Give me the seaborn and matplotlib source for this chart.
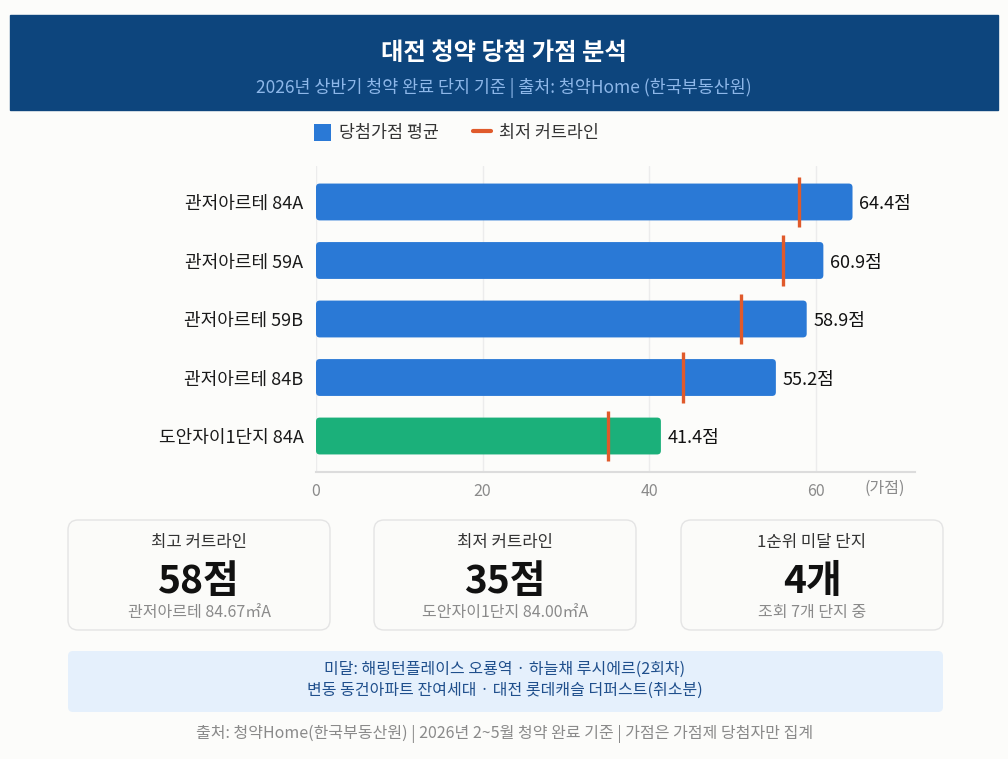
import numpy as np
import pandas as pd
import seaborn as sns
import matplotlib.pyplot as plt
from matplotlib.patches import FancyBboxPatch, Rectangle, Patch
from matplotlib.lines import Line2D


# data
complexes = ["관저아르테 84A", "관저아르테 59A", "관저아르테 59B", "관저아르테 84B", "도안자이1단지 84A"]
avg_scores = [64.4, 60.9, 58.9, 55.2, 41.4]
min_cutoffs = [58, 56, 51, 44, 35]
groups = ["관저아르테", "관저아르테", "관저아르테", "관저아르테", "도안자이"]
x_ticks = [0, 20, 40, 60]

card_titles = ["최고 커트라인", "최저 커트라인", "1순위 미달 단지"]
card_values = ["58점", "35점", "4개"]
card_subs = ["관저아르테 84.67㎡A", "도안자이1단지 84.00㎡A", "조회 7개 단지 중"]

note_lines = [
    "미달: 해링턴플레이스 오룡역 · 하늘채 루시에르(2회차)",
    "변동 동건아파트 잔여세대 · 대전 롯데캐슬 더퍼스트(취소분)",
]
title = "대전 청약 당첨 가점 분석"
subtitle = "2026년 상반기 청약 완료 단지 기준 | 출처: 청약Home (한국부동산원)"
footer = "출처: 청약Home(한국부동산원) | 2026년 2~5월 청약 완료 기준 | 가점은 가점제 당첨자만 집계"

BLUE = "#2a79d6"
GREEN = "#1bb07a"
ORANGE = "#e05a2b"
BG = "#fcfcfa"

W, H = 1008, 759


def fx(px):
    return px / W


def fy(py):
    return 1 - py / H


def main():
    sns.set_theme(style="white")
    plt.rcParams["font.family"] = ["Noto Sans CJK KR", "DejaVu Sans"]

    fig = plt.figure(figsize=(W / 100, H / 100), dpi=100)
    fig.patch.set_facecolor(BG)

    # header band
    fig.patches.append(Rectangle((fx(10), fy(110)), fx(988), 95 / H,
                                 transform=fig.transFigure, color="#0d457d", zorder=0))
    fig.text(0.5, fy(53), title, ha="center", va="center", color="white",
             fontsize=17.5, fontweight="bold")
    fig.text(0.5, fy(88), subtitle, ha="center", va="center", color="#8db7e9",
             fontsize=12.5, fontweight="medium")

    # chart
    df = pd.DataFrame({"complex": complexes, "score": avg_scores,
                       "cutoff": min_cutoffs, "group": groups})
    ax = fig.add_axes([fx(316), fy(472), fx(599), (472 - 166) / H])
    ax.set_facecolor(BG)
    sns.barplot(data=df, x="score", y="complex", hue="group",
                palette={"관저아르테": BLUE, "도안자이": GREEN}, saturation=1,
                dodge=False, legend=False, width=0.63, errorbar=None, ax=ax)

    # rounded bar corners
    for p in list(ax.patches):
        x0, y0 = p.get_x(), p.get_y()
        w, h = p.get_width(), p.get_height()
        fc = p.get_facecolor()
        p.set_visible(False)
        ax.add_patch(FancyBboxPatch((x0, y0), w, h,
                                    boxstyle="round,pad=0,rounding_size=0.45",
                                    mutation_aspect=8.33 / 58.5,
                                    facecolor=fc, edgecolor="none", zorder=2))

    pos = np.arange(len(df))
    ax.vlines(df["cutoff"], pos - 0.43, pos + 0.43, color=ORANGE, lw=2.4, zorder=3)

    for i, v in enumerate(df["score"]):
        ax.annotate(f"{v}점", (v, i), xytext=(5, -1.5), textcoords="offset points",
                    va="center", ha="left", fontsize=13, color="#111111")

    ax.set_xlim(0, 71.9)
    ax.set_ylim(len(df) - 0.385, -0.615)
    ax.set_xticks(x_ticks)
    ax.set_xlabel("")
    ax.set_ylabel("")
    ax.tick_params(axis="x", length=0, pad=8, labelsize=11.5, labelcolor="#8a8a8a")
    ax.tick_params(axis="y", length=0, pad=9, labelsize=13, labelcolor="#1a1a1a")
    ax.grid(axis="x", color="#ececec", lw=1)
    ax.set_axisbelow(True)
    for s in ["top", "right", "left"]:
        ax.spines[s].set_visible(False)
    ax.spines["bottom"].set_color("#dcdcdc")
    ax.spines["bottom"].set_linewidth(1.5)
    fig.text(fx(885), fy(488), "(가점)", ha="center", va="center",
             fontsize=11.5, color="#8a8a8a")

    # legend
    handles = [Patch(facecolor=BLUE, edgecolor="none"),
               Line2D([0], [0], color=ORANGE, lw=3)]
    fig.legend(handles, ["당첨가점 평균", "최저 커트라인"], loc="center",
               bbox_to_anchor=(fx(456), fy(133)), ncol=2, frameon=False,
               fontsize=12.5, handlelength=1.0, handleheight=1.1,
               columnspacing=2.0, handletextpad=0.45, labelcolor="#333333")

    # cards
    card_x = [68, 374, 681]
    card_w = 262
    for cx, t, v, s in zip(card_x, card_titles, card_values, card_subs):
        fig.patches.append(FancyBboxPatch(
            (fx(cx), fy(630)), fx(card_w), 110 / H,
            boxstyle=f"round,pad=0,rounding_size={10 / W}",
            mutation_aspect=W / H, transform=fig.transFigure,
            facecolor="#fbfbf9", edgecolor="#e4e4e4", lw=1))
        mid = fx(cx + card_w / 2)
        fig.text(mid, fy(543), t, ha="center", va="center", fontsize=12, color="#333333")
        fig.text(mid, fy(582), v, ha="center", va="center", fontsize=28,
                 fontweight="bold", color="#111111")
        fig.text(mid, fy(613), s, ha="center", va="center", fontsize=11.5, color="#8a8a8a")

    # note box
    fig.patches.append(FancyBboxPatch(
        (fx(68), fy(712)), fx(875), 61 / H,
        boxstyle=f"round,pad=0,rounding_size={5 / W}",
        mutation_aspect=W / H, transform=fig.transFigure,
        facecolor="#e5f0fc", edgecolor="none"))
    for k, line in enumerate(note_lines):
        fig.text(fx(505), fy(669 + 21 * k), line, ha="center", va="center",
                 fontsize=11.5, color="#1f4f8c")

    fig.text(fx(505), fy(734), footer, ha="center", va="center",
             fontsize=11.5, color="#8a8a8a")

    fig.savefig("out.png", dpi=100, facecolor=BG)


if __name__ == "__main__":
    main()
